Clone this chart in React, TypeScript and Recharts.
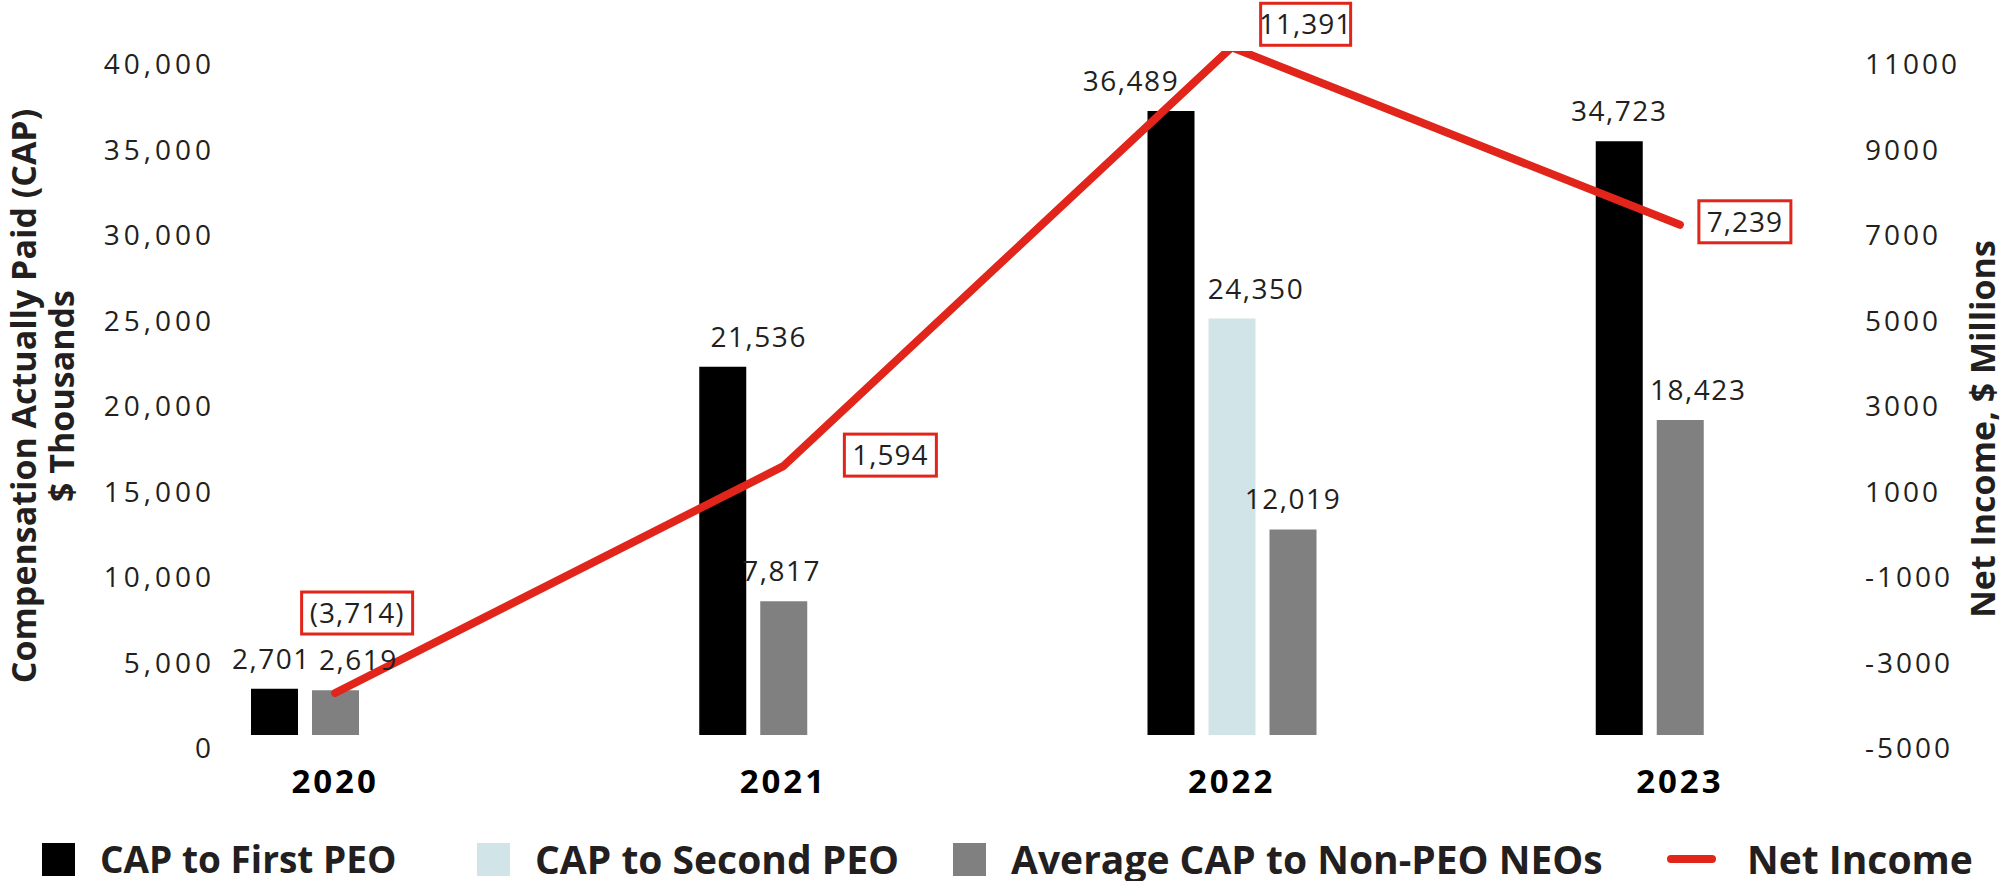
import React from "react";
import { ComposedChart, Bar, Line, XAxis, YAxis, Cell, LabelList } from "recharts";

const years = ["2020", "2021", "2022", "2023"];
const capFirstPeo = [2701, 21536, 36489, 34723];
const capSecondPeo: (number | null)[] = [null, null, 24350, null];
const avgNonPeo = [2619, 7817, 12019, 18423];
const netIncome = [-3714, 1594, 11391, 7239];

const capTicks = [0, 5000, 10000, 15000, 20000, 25000, 30000, 35000, 40000];
const niTicks = [-5000, -3000, -1000, 1000, 3000, 5000, 7000, 9000, 11000];

const BLACK = "#000000";
const LIGHT_BLUE = "#D1E5E8";
const GRAY = "#808080";
const RED = "#E1251B";
const TEXT = "#231F20";
const NUM_FONT = "'Open Sans', sans-serif";
const BOLD_FONT = "'Open Sans', sans-serif";

// each year has three bar slots; when there is no second PEO the non-PEO bar moves into slot 2
const rows = years.map((year, i) => ({
  year,
  slot1: capFirstPeo[i],
  slot2: capSecondPeo[i] ?? avgNonPeo[i],
  slot2IsSecond: capSecondPeo[i] != null,
  slot3: capSecondPeo[i] != null ? avgNonPeo[i] : null,
  netIncome: netIncome[i],
}));

// plot spans 51..735 px; the net income scale in the original sits 13 px lower
const PLOT_H = 684;
const NI_SHIFT = (13 / PLOT_H) * 16000;

// manual nudges of the value labels, as in the original
const slot1Dx = [-3, 36, -40, 0];
const slot2Dx = [23, -2, 24, 18];
const slot3Dx = [0, 0, 13, 0];
const niBoxes = [
  { dx: 22, dy: -80, w: 111 },
  { dx: 107, dy: -11, w: 92 },
  { dx: 74, dy: -23, w: 90 },
  { dx: 65, dy: -3, w: 92 },
];

const fmt = (v: number) => v.toLocaleString("en-US");
const fmtNi = (v: number) => (v < 0 ? `(${fmt(-v)})` : fmt(v));

const barLabel = (dxs: number[]) => (props: any) => {
  const { x, y, width, value, index } = props;
  if (value == null) return null;
  return (
    <text x={Number(x) + Number(width) / 2 + dxs[index]} y={Number(y) - 20} textAnchor="middle"
      fill={TEXT} fontSize={28} letterSpacing={1.5} fontFamily={NUM_FONT}>{fmt(value)}</text>
  );
};

const niLabel = (props: any) => {
  const { x, y, value, index } = props;
  const b = niBoxes[index];
  const cx = Number(x) + b.dx;
  const cy = Number(y) + b.dy;
  return (
    <g>
      <rect x={cx - b.w / 2} y={cy - 21} width={b.w} height={42} fill="#fff" stroke={RED} strokeWidth={3} />
      <text x={cx} y={cy} dy="0.36em" textAnchor="middle" fill={TEXT} fontSize={28} letterSpacing={1}
        fontFamily={NUM_FONT}>{fmtNi(value)}</text>
    </g>
  );
};

const LeftTick = ({ x, y, payload }: any) => (
  <text x={x + 104} y={y + 13} dy="0.36em" textAnchor="end" fill={TEXT} fontSize={28} fontFamily={NUM_FONT} letterSpacing={4}>
    {fmt(payload.value)}
  </text>
);

const RightTick = ({ x, y, payload }: any) => (
  <text x={x - 39} y={y} dy="0.36em" textAnchor="start" fill={TEXT} fontSize={28} fontFamily={NUM_FONT} letterSpacing={3}>
    {payload.value}
  </text>
);

const YearTick = ({ x, y, payload }: any) => (
  <text x={x} y={y + 46} dy="0.36em" textAnchor="middle" fill={BLACK} fontSize={33} letterSpacing={3} fontWeight={700}
    fontFamily={BOLD_FONT}>
    {payload.value}
  </text>
);

const legendItems = [
  { name: "CAP to First PEO", color: BLACK, kind: "box", left: 42, size: 37 },
  { name: "CAP to Second PEO", color: LIGHT_BLUE, kind: "box", left: 477, size: 39 },
  { name: "Average CAP to Non-PEO NEOs", color: GRAY, kind: "box", left: 953, size: 39 },
  { name: "Net Income", color: RED, kind: "line", left: 1667, size: 39 },
];

export default function App() {
  return (
    <div style={{ position: "absolute", left: 0, top: 0, width: 2006, height: 881, background: "#fff" }}>
      <ComposedChart width={2006} height={820} data={rows} barSize={47} barGap={14}
        margin={{ top: 51, right: 0, bottom: 20, left: 0 }}>
        <XAxis dataKey="year" height={65} axisLine={false} tickLine={false} tickSize={0} tickMargin={0} tick={<YearTick />} />
        <YAxis yAxisId="cap" orientation="left" width={111} domain={[0, 40000]} ticks={capTicks} interval={0}
          axisLine={false} tickLine={false} tickSize={0} tickMargin={0} tick={<LeftTick />} />
        <YAxis yAxisId="ni" orientation="right" width={102} domain={[-5000 + NI_SHIFT, 11000 + NI_SHIFT]}
          ticks={niTicks} interval={0} allowDataOverflow axisLine={false} tickLine={false} tickSize={0} tickMargin={0}
          tick={<RightTick />} />
        <Bar yAxisId="cap" dataKey="slot1" fill={BLACK} isAnimationActive={false}>
          <LabelList dataKey="slot1" content={barLabel(slot1Dx)} />
        </Bar>
        <Bar yAxisId="cap" dataKey="slot2" isAnimationActive={false}>
          {rows.map((r) => (
            <Cell key={r.year} fill={r.slot2IsSecond ? LIGHT_BLUE : GRAY} />
          ))}
          <LabelList dataKey="slot2" content={barLabel(slot2Dx)} />
        </Bar>
        <Bar yAxisId="cap" dataKey="slot3" fill={GRAY} isAnimationActive={false}>
          <LabelList dataKey="slot3" content={barLabel(slot3Dx)} />
        </Bar>
        <Line yAxisId="ni" type="linear" dataKey="netIncome" stroke={RED} strokeWidth={8} strokeLinecap="round"
          strokeLinejoin="round" dot={false} activeDot={false} isAnimationActive={false}>
          <LabelList dataKey="netIncome" content={niLabel} />
        </Line>
      </ComposedChart>

      <svg width={2006} height={881} style={{ position: "absolute", left: 0, top: 0, pointerEvents: "none" }}>
        <g fontFamily={BOLD_FONT} fontWeight={700} fontSize={34} fill={TEXT}>
          <text transform="translate(24,396) rotate(-90)" textAnchor="middle" dy="0.36em">Compensation Actually Paid (CAP)</text>
          <text transform="translate(62,396) rotate(-90)" textAnchor="middle" dy="0.36em">$ Thousands</text>
          <text transform="translate(1983,429) rotate(-90)" textAnchor="middle" dy="0.36em">Net Income, $ Millions</text>
        </g>
      </svg>

      {legendItems.map((it) => (
        <div key={it.name} style={{ position: "absolute", left: it.left, top: 841, height: 36, lineHeight: "36px",
          display: "flex", alignItems: "center", fontFamily: BOLD_FONT, fontWeight: 700, fontSize: it.size, color: TEXT,
          whiteSpace: "nowrap" }}>
          {it.kind === "box" ? (
            <span style={{ display: "inline-block", width: 33, height: 33, background: it.color, marginRight: 25 }} />
          ) : (
            <span style={{ display: "inline-block", width: 49, height: 8, borderRadius: 4, background: it.color, marginRight: 31 }} />
          )}
          {it.name}
        </div>
      ))}
    </div>
  );
}
